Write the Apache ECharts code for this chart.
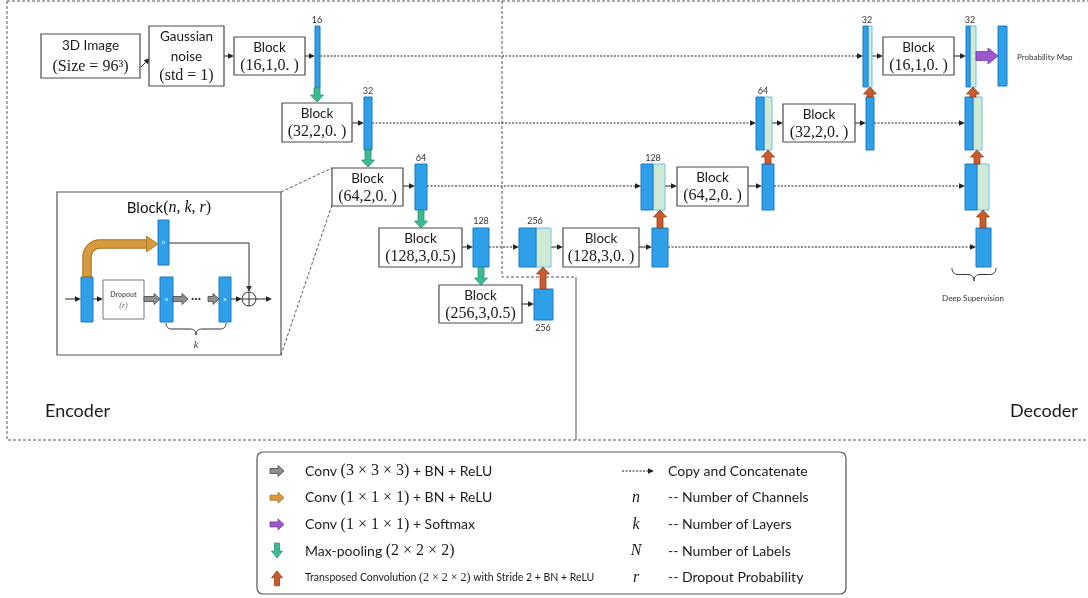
<!DOCTYPE html>
<html><head><meta charset="utf-8">
<script src="https://cdn.jsdelivr.net/npm/echarts@6/dist/echarts.min.js"></script>
<style>html,body{margin:0;padding:0;background:#fff}#c{width:1088px;height:598px}</style>
</head><body><div id="c"></div>
<script>
// ---------------- data ----------------
const textBoxes = [ // x0,y0,x1,y1, sans lines, math line
  [41,34,140,78,'3D Image','(Size = 96³)'],
  [149,26,224,86,'Gaussian\nnoise','(std = 1)'],
  [234,37,305,75,'Block','(16,1,0. )'],
  [282,103,352,142,'Block','(32,2,0. )'],
  [332,168,403,206,'Block','(64,2,0. )'],
  [379,228,462,267,'Block','(128,3,0.5)'],
  [439,285,522,323,'Block','(256,3,0.5)'],
  [563,228,639,267,'Block','(128,3,0. )'],
  [677,167,748,206,'Block','(64,2,0. )'],
  [783,104,855,142,'Block','(32,2,0. )'],
  [883,37,954,75,'Block','(16,1,0. )']
];
const featureMaps = [ // x0,y0,x1,y1
  [315,26,320,88],[364,97,372,150],[415,164,427,210],[473,228,489,267],
  [534,289,553,320],[652,228,668,267],[762,164,774,210],[866,97,874,150],
  [998,26,1007,86],[976,228,991,267]
];
const concatMaps = [ // x0, xSplit, x1, y0, y1
  [519,536,551,228,267],[641,653,665,164,210],[756,764,772,97,150],
  [863,868,872,26,87],[966,970,976,26,87],[965,973,982,97,150],[965,977,989,164,210]
];
const mapLabels = [ // x,y,text
  [317,20,'16'],[368,91,'32'],[421,158,'64'],[481,221,'128'],[543,328,'256'],
  [535,221,'256'],[653,158,'128'],[763,91,'64'],[867,20,'32'],[970,20,'32']
];
const flowArrows = [ // x0,y0,x1,y1
  [141,67,150,58],[224,56,234,56],[305,56,315,56],[352,123,364,123],[403,186,415,186],
  [462,247,473,247],[522,304,534,304],[551,247,563,247],[639,247,652,247],[665,186,677,186],
  [748,186,762,186],[772,123,783,123],[855,123,866,123],[872,56,883,56],[954,56,966,56]
];
const skipArrows = [ // x0,x1,y
  [320,863,56],[372,756,123],[427,641,186],[489,519,247],[668,976,247],[774,965,186],[874,965,123]
];
const poolArrows = [[317,88,102],[368,150,167],[421,210,228],[481,267,285]]; // x,yFrom,yTo
const upArrows = [[543,289,267],[660,228,210],[768,164,150],[870,97,87],[983,228,210],[977,164,150],[973,97,87]];
const softmaxArrows = [[976,56,998,56]];
const regionBorders = [ // polyline points, dashed?
  [[[7,1],[1088,1]],1],
  [[[7,1],[7,440],[1088,440]],1],
  [[[502,1],[502,277],[576,277]],1],
  [[[576,277],[576,440]],0]
];
const zoomLines = [[281,192,332,168],[281,355,332,205]];
const regionLabels = [[45,411,'Encoder','left'],[1010,411,'Decoder','left']];
const notes = [[1017,57,'Probability Map','left'],[973,298,'Deep Supervision','center']];
const braces = [[952,996,268,13]]; // x0,x1,y0,h
// inset "Block(n,k,r)"
const insetFrame = [[57,192,281,355]];
const insetBars = [[81,277,93,322,''],[160,277,173,322,'n'],[219,277,231,322,'n'],[158,220,169,265,'n']];
const insetDropout = [[103,280,144,319]];
const insetConvArrows = [[144,160,299],[173,188,299],[208,219,299]];
const insetThinArrows = [[65,299,81,299],[93,299,103,299],[231,299,242,299],[256,299,272,299]];
const insetSum = [[249,299,7]];
const insetResidual = [[[169,243],[249,243],[249,292]]];
const insetSkipConv = [[87,277,158,244]];
const insetBraces = [[166,226,323,12]];
// legend
const legendBox = [[257,452,846,594]];
const legendOps = [
  ['gray','Conv {m|(3 × 3 × 3)} + BN + ReLU'],
  ['gold','Conv {m|(1 × 1 × 1)} + BN + ReLU'],
  ['purple','Conv {m|(1 × 1 × 1)} + Softmax'],
  ['down','Max-pooling {m|(2 × 2 × 2)}'],
  ['up','{t|Transposed Convolution }{tm|(2 × 2 × 2)}{t| with Stride 2 + BN + ReLU}']
];
const legendSymbols = [['','Copy and Concatenate'],['n','-- Number of Channels'],['k','-- Number of Layers'],['N','-- Number of Labels'],['r','-- Dropout Probability']];

// ---------------- styles ----------------
const SANS = 'Lato, "Noto Sans", sans-serif';
const SERIF = '"Liberation Serif", "DejaVu Serif", serif';
const BLUE='#2E9FE9', BLUE_EDGE='#1F79C2', CAT='#CFE9D2', CAT_EDGE='#6DC0F0';
const COL = {
  gray:['#8F8F8F','#444'], gold:['#D69A3C','#A86F1E'], purple:['#9C58CA','#7236A3'],
  down:['#3DBA94','#2A9574'], up:['#C95B2C','#97401B']
};

// ---------------- helpers ----------------
function arrowPts(sx,sy,ex,ey,sw,hw,hl){
  const dx=ex-sx, dy=ey-sy, L=Math.hypot(dx,dy), ux=dx/L, uy=dy/L, nx=-uy, ny=ux;
  const bx=ex-ux*hl, by=ey-uy*hl;
  return [[sx+nx*sw/2,sy+ny*sw/2],[bx+nx*sw/2,by+ny*sw/2],[bx+nx*hw/2,by+ny*hw/2],[ex,ey],
          [bx-nx*hw/2,by-ny*hw/2],[bx-nx*sw/2,by-ny*sw/2],[sx-nx*sw/2,sy-ny*sw/2]];
}
function thinArrow(a,b,dash,color){
  const dx=b[0]-a[0], dy=b[1]-a[1], L=Math.hypot(dx,dy), ux=dx/L, uy=dy/L, hl=6, hw=2.8;
  const bx=b[0]-ux*hl, by=b[1]-uy*hl;
  color=color||'#222';
  return [
    {type:'line',shape:{x1:a[0],y1:a[1],x2:bx,y2:by},style:{stroke:color,lineWidth:dash?1:1,lineDash:dash?[2,1.5]:null}},
    {type:'polygon',shape:{points:[[b[0],b[1]],[bx-uy*hw,by+ux*hw],[bx+uy*hw,by-ux*hw]]},style:{fill:color}}
  ];
}
function bracePts(x0,x1,y0,h){
  const xm=(x0+x1)/2, r=h/2, pts=[];
  const q=(ax,ay,cx,cy,bx,by)=>{for(let i=0;i<=8;i++){const t=i/8,u=1-t;pts.push([u*u*ax+2*u*t*cx+t*t*bx,u*u*ay+2*u*t*cy+t*t*by]);}};
  const rr=Math.min(r,(x1-x0)/4);
  q(x0,y0,x0,y0+r,x0+rr,y0+r);
  q(xm-rr,y0+r,xm,y0+r,xm,y0+h);
  q(xm,y0+h,xm,y0+r,xm+rr,y0+r);
  q(x1-rr,y0+r,x1,y0+r,x1,y0);
  return pts;
}
const C=(api,x,y)=>api.coord([x,y]);
function rectEl(api,x0,y0,x1,y1,fill,stroke,lw){
  const p=C(api,x0,y0), q=C(api,x1,y1);
  return {type:'rect',shape:{x:p[0],y:p[1],width:q[0]-p[0],height:q[1]-p[1]},style:{fill,stroke,lineWidth:lw||1}};
}
function txt(x,y,text,font,align,extra){
  return {type:'text',style:Object.assign({text,x,y,font,fill:'#1a1a1a',align:align||'center',verticalAlign:'middle'},extra||{})};
}
function series(data, render, z){
  return {type:'custom',coordinateSystem:'cartesian2d',silent:true,clip:false,animation:false,z:z||2,
    encode:{x:0,y:1}, data:data.map((d,i)=>[i,0]), renderItem:(params,api)=>render(data[params.dataIndex],api)};
}

// ---------------- render functions ----------------
const rBorders = (d,api)=>({type:'polyline',shape:{points:d[0].map(p=>C(api,p[0],p[1]))},
  style:{fill:null,stroke:'#555',lineWidth:1,lineDash:d[1]?[3,2]:null}});
const rZoomLines = (d,api)=>{const a=C(api,d[0],d[1]),b=C(api,d[2],d[3]);
  return {type:'line',shape:{x1:a[0],y1:a[1],x2:b[0],y2:b[1]},style:{stroke:'#555',lineWidth:1,lineDash:[3,2]}};};
const rBoxes = (b,api)=>{
  const p0=C(api,b[0],b[1]), p1=C(api,b[2],b[3]);
  const lines=b[4].split('\n'), n=lines.length+1, h=p1[1]-p0[1], cx=(p0[0]+p1[0])/2;
  const ch=[rectEl(api,b[0],b[1],b[2],b[3],'#fff','#4a4a4a',1.2)];
  lines.forEach((t,i)=>ch.push(txt(cx,p0[1]+h*(i+0.5)/n+1,t,'13.5px '+SANS)));
  ch.push(txt(cx,p0[1]+h*(n-0.5)/n,b[5],'16px '+SERIF));
  return {type:'group',children:ch};
};
const rMaps = (m,api)=>rectEl(api,m[0],m[1],m[2],m[3],BLUE,BLUE_EDGE,1);
const rCats = (m,api)=>({type:'group',children:[
  rectEl(api,m[1],m[3],m[2],m[4],CAT,CAT_EDGE,1),
  rectEl(api,m[0],m[3],m[1],m[4],BLUE,BLUE_EDGE,1)]});
const rMapLabels = (l,api)=>{const p=C(api,l[0],l[1]);return txt(p[0],p[1],l[2],'9px '+SANS,'center',{fill:'#333'});};
const rFlow = (a,api)=>({type:'group',children:thinArrow(C(api,a[0],a[1]),C(api,a[2],a[3]),false)});
const rSkip = (a,api)=>({type:'group',children:thinArrow(C(api,a[0],a[2]),C(api,a[1],a[2]),true)});
const rPool = (a,api)=>{const s=C(api,a[0],a[1]),e=C(api,a[0],a[2]);
  return {type:'polygon',shape:{points:arrowPts(s[0],s[1],e[0],e[1],6,13,7)},style:{fill:COL.down[0],stroke:COL.down[1],lineWidth:0.8}};};
const rUp = (a,api)=>{const s=C(api,a[0],a[1]),e=C(api,a[0],a[2]);
  return {type:'polygon',shape:{points:arrowPts(s[0],s[1],e[0],e[1],6,13,7)},style:{fill:COL.up[0],stroke:COL.up[1],lineWidth:0.8}};};
const rSoft = (a,api)=>{const s=C(api,a[0],a[1]),e=C(api,a[2],a[3]);
  return {type:'polygon',shape:{points:arrowPts(s[0],s[1],e[0],e[1],9,16,10)},style:{fill:COL.purple[0],stroke:COL.purple[1],lineWidth:0.8}};};
const rRegionLabels = (l,api)=>{const p=C(api,l[0],l[1]);return txt(p[0],p[1],l[2],'18px '+SANS,l[3]);};
const rNotes = (l,api)=>{const p=C(api,l[0],l[1]);return txt(p[0],p[1],l[2],'8px '+SANS,l[3],{fill:'#333'});};
const rBraces = (b,api)=>({type:'polyline',shape:{points:bracePts(b[0],b[1],b[2],b[3]).map(p=>C(api,p[0],p[1]))},style:{fill:null,stroke:'#333',lineWidth:1}});
const rInsetFrame = (f,api)=>{const p0=C(api,f[0],f[1]),p1=C(api,f[2],f[3]);
  return {type:'group',children:[rectEl(api,f[0],f[1],f[2],f[3],'#fff','#555',1.2),
    txt((p0[0]+p1[0])/2,p0[1]+16,'{a|Block}{b|(}{i|n}{b|, }{i|k}{b|, }{i|r}{b|)}','15px '+SANS,'center',
      {rich:{a:{font:'15px '+SANS,fill:'#111'},b:{font:'16px '+SERIF,fill:'#111'},i:{font:'italic 16px '+SERIF,fill:'#111'}}})]};};
const rInsetBars = (b,api)=>{const p0=C(api,b[0],b[1]),p1=C(api,b[2],b[3]);
  return {type:'group',children:[rectEl(api,b[0],b[1],b[2],b[3],BLUE,BLUE_EDGE,1),
    txt((p0[0]+p1[0])/2,(p0[1]+p1[1])/2,b[4],'6px '+SERIF,'center',{fill:'#fff'})]};};
const rInsetDrop = (b,api)=>{const p0=C(api,b[0],b[1]),p1=C(api,b[2],b[3]),cx=(p0[0]+p1[0])/2,cy=(p0[1]+p1[1])/2;
  return {type:'group',children:[rectEl(api,b[0],b[1],b[2],b[3],'#fff','#777',1),
    txt(cx,cy-5,'Dropout','bold 7px '+SANS,'center',{fill:'#666'}),
    txt(cx,cy+6,'(r)','italic 8px '+SERIF,'center',{fill:'#666'})]};};
const rInsetConv = (a,api)=>{const s=C(api,a[0],a[2]),e=C(api,a[1],a[2]);
  return {type:'polygon',shape:{points:arrowPts(s[0],s[1],e[0],e[1],5,11,6)},style:{fill:COL.gray[0],stroke:COL.gray[1],lineWidth:0.8}};};
const rInsetThin = (a,api)=>({type:'group',children:thinArrow(C(api,a[0],a[1]),C(api,a[2],a[3]),false)});
const rInsetSum = (s,api)=>{const c=C(api,s[0],s[1]),r=s[2];
  return {type:'group',children:[
    {type:'circle',shape:{cx:c[0],cy:c[1],r},style:{fill:'#fff',stroke:'#333',lineWidth:1}},
    {type:'line',shape:{x1:c[0]-r,y1:c[1],x2:c[0]+r,y2:c[1]},style:{stroke:'#333',lineWidth:1}},
    {type:'line',shape:{x1:c[0],y1:c[1]-r,x2:c[0],y2:c[1]+r},style:{stroke:'#333',lineWidth:1}}]};};
const rInsetResidual = (pts,api)=>{const P=pts.map(p=>C(api,p[0],p[1]));
  const last=P[P.length-1], prev=P[P.length-2];
  return {type:'group',children:[{type:'polyline',shape:{points:P.slice(0,-1)},style:{fill:null,stroke:'#333',lineWidth:1}}]
    .concat(thinArrow(prev,last,false,'#333'))};};
const rInsetSkipConv = (a,api)=>{
  const s=C(api,a[0],a[1]), e=C(api,a[2],a[3]), r=13, hl=11, hw=16;
  const pts=[[s[0],s[1]],[s[0],e[1]+r]];
  for(let i=1;i<=8;i++){const t=i/16*Math.PI;pts.push([s[0]+r-r*Math.cos(t),e[1]+r-r*Math.sin(t)]);}
  pts.push([e[0]-hl,e[1]]);
  const dotsX=(C(api,173,0)[0]+C(api,219,0)[0])/2, dotsY=C(api,0,299)[1]-1;
  return {type:'group',children:[
    {type:'polyline',shape:{points:pts},style:{fill:null,stroke:COL.gold[1],lineWidth:9.5}},
    {type:'polyline',shape:{points:pts.map((p,i)=>i===0?[p[0],p[1]-0.8]:p)},style:{fill:null,stroke:COL.gold[0],lineWidth:7.5}},
    {type:'polygon',shape:{points:[[e[0]-hl-0.5,e[1]-hw/2],[e[0],e[1]],[e[0]-hl-0.5,e[1]+hw/2]]},style:{fill:COL.gold[0],stroke:COL.gold[1],lineWidth:0.8}},
    txt(dotsX,dotsY,'···','bold 12px '+SANS,'center',{fill:'#333'})
  ]};};
const rInsetBraces = (b,api)=>{const k=C(api,(b[0]+b[1])/2,b[2]+b[3]+10);
  return {type:'group',children:[rBraces(b,api),txt(k[0],k[1],'k','italic 10px '+SERIF,'center',{fill:'#333'})]};};
const rLegendBox = (b,api)=>{const p0=C(api,b[0],b[1]),p1=C(api,b[2],b[3]);
  return {type:'rect',shape:{x:p0[0],y:p0[1],width:p1[0]-p0[0],height:p1[1]-p0[1],r:6},style:{fill:'#fff',stroke:'#555',lineWidth:1.2}};};
function legendRow(i){return 471+i*26.7;}
const rLegendOps = (o,api)=>{
  const i=legendOps.indexOf(o), y=C(api,0,legendRow(i))[1], ix=C(api,277,0)[0], tx=C(api,305,0)[0];
  let pts;
  if(o[0]==='down') pts=arrowPts(ix,y-8,ix,y+7,5,11,7);
  else if(o[0]==='up') pts=arrowPts(ix,y+8,ix,y-7,5,11,7);
  else pts=arrowPts(ix-7,y,ix+7,y,5,11,6);
  const c=COL[o[0]];
  return {type:'group',children:[
    {type:'polygon',shape:{points:pts},style:{fill:c[0],stroke:c[1],lineWidth:0.8}},
    txt(tx,y,o[1],'14px '+SANS,'left',{rich:{m:{font:'16px '+SERIF,fill:'#1a1a1a'},t:{font:'10.5px '+SANS,fill:'#1a1a1a'},tm:{font:'12px '+SERIF,fill:'#1a1a1a'}}})
  ]};};
const rLegendSym = (s,api)=>{
  const i=legendSymbols.indexOf(s), y=C(api,0,legendRow(i))[1], sx=C(api,636,0)[0], tx=C(api,668,0)[0];
  const ch=[txt(tx,y,s[1],'14px '+SANS,'left')];
  if(s[0]) ch.push(txt(sx,y,s[0],'italic 16px '+SERIF,'center'));
  else ch.push(...thinArrow(C(api,622,legendRow(i)),C(api,654,legendRow(i)),true));
  return {type:'group',children:ch};
};

const chart = echarts.init(document.getElementById('c'));
chart.setOption({
  animation:false,
  grid:{left:0,right:0,top:0,bottom:0},
  xAxis:{type:'value',min:0,max:1088,show:false},
  yAxis:{type:'value',min:0,max:598,inverse:true,show:false},
  series:[
    series(regionBorders,rBorders,1),
    series(zoomLines,rZoomLines,1),
    series(skipArrows,rSkip,2),
    series(flowArrows,rFlow,2),
    series(textBoxes,rBoxes,3),
    series(concatMaps,rCats,4),
    series(featureMaps,rMaps,4),
    series(mapLabels,rMapLabels,4),
    series(poolArrows,rPool,5),
    series(upArrows,rUp,5),
    series(softmaxArrows,rSoft,5),
    series(regionLabels,rRegionLabels,5),
    series(notes,rNotes,5),
    series(braces,rBraces,5),
    series(insetFrame,rInsetFrame,6),
    series(insetResidual,rInsetResidual,7),
    series(insetThinArrows,rInsetThin,7),
    series(insetBars,rInsetBars,8),
    series(insetDropout,rInsetDrop,8),
    series(insetConvArrows,rInsetConv,8),
    series(insetSum,rInsetSum,8),
    series(insetSkipConv,rInsetSkipConv,8),
    series(insetBraces,rInsetBraces,8),
    series(legendBox,rLegendBox,6),
    series(legendOps,rLegendOps,7),
    series(legendSymbols,rLegendSym,7)
  ]
});
</script></body></html>
